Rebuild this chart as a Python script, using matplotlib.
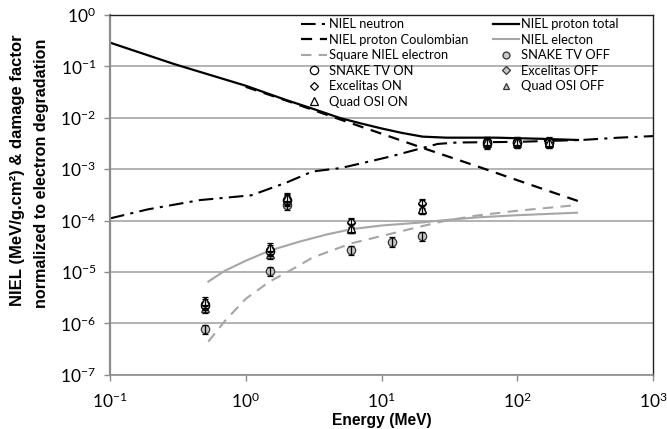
import matplotlib
matplotlib.use("Agg")
import matplotlib.pyplot as plt
from matplotlib.lines import Line2D
import numpy as np

plt.rcParams['font.family'] = ['Lato', 'DejaVu Sans']
plt.rcParams['mathtext.fontset'] = 'custom'
plt.rcParams['mathtext.rm'] = 'Lato'
plt.rcParams['mathtext.it'] = 'Lato:italic'
plt.rcParams['mathtext.bf'] = 'Lato:bold'

# ---- NIEL curves ----
e_neutron = [0.1, 0.19, 0.46, 1.1, 2.0, 3.1, 5.0, 9.0, 12.0, 17.0, 26.0, 36.0, 100.0, 300.0, 560.0, 1000.0]
niel_neutron = [1.1e-4, 1.65e-4, 2.5e-4, 3.1e-4, 5.5e-4, 9.0e-4, 1.05e-3, 1.5e-3, 1.8e-3, 2.3e-3, 3.1e-3,
                3.3e-3, 3.4e-3, 3.7e-3, 4.1e-3, 4.4e-3]

e_proton_total = [0.1, 0.3, 1.0, 2.0, 3.0, 5.0, 7.0, 10.0, 14.0, 20.0, 30.0, 50.0, 70.0, 100.0, 150.0, 200.0, 280.0]
niel_proton_total = [0.29, 0.11, 0.042, 0.022, 0.0155, 0.0098, 0.0078, 0.0062, 0.0051, 0.0043, 0.0041,
                     0.0041, 0.0041, 0.0040, 0.0039, 0.0038, 0.0037]

e_proton_coul = [1.0, 2.0, 5.0, 10.0, 20.0, 50.0, 100.0, 280.0]
niel_proton_coul = [0.040, 0.0215, 0.0092, 0.0049, 0.0026, 1.15e-3, 6.1e-4, 2.4e-4]

e_electron = [0.53, 0.7, 1.0, 1.5, 2.5, 4.0, 6.0, 10.0, 20.0, 27.0, 50.0, 100.0, 275.0]
niel_electron = [6.5e-6, 1.05e-5, 1.65e-5, 2.6e-5, 3.9e-5, 5.4e-5, 6.8e-5, 8.0e-5, 9.2e-5, 1.0e-4,
                 1.15e-4, 1.27e-4, 1.42e-4]

e_sq_electron = [0.53, 0.7, 1.0, 1.5, 2.3, 3.1, 6.0, 10.0, 20.0, 30.0, 50.0, 100.0, 275.0]
sq_niel_electron = [4.4e-7, 1.1e-6, 3.0e-6, 6.5e-6, 1.2e-5, 1.9e-5, 3.6e-5, 5.0e-5, 7.8e-5, 1.0e-4,
                    1.25e-4, 1.55e-4, 2.0e-4]

# ---- measured damage factors ----
e_snake_on = [0.5, 1.5, 2.0, 60.0, 100.0, 170.0]
snake_on = [2.3e-6, 2.6e-5, 2.5e-4, 3.4e-3, 3.4e-3, 3.4e-3]
e_snake_off = [0.5, 1.5, 2.0, 6.0, 12.0, 20.0, 60.0, 100.0, 170.0]
snake_off = [7.8e-7, 1.05e-5, 2.0e-4, 2.7e-5, 3.9e-5, 4.9e-5, 3.1e-3, 3.2e-3, 3.2e-3]
e_excel_on = [0.5, 1.5, 2.0, 6.0, 20.0, 60.0, 100.0, 170.0]
excel_on = [2.5e-6, 2.8e-5, 2.6e-4, 9.5e-5, 2.2e-4, 3.5e-3, 3.5e-3, 3.5e-3]
e_excel_off = [0.5, 1.5, 2.0, 6.0, 20.0, 60.0, 100.0, 170.0]
excel_off = [2.1e-6, 2.4e-5, 2.4e-4, 9.0e-5, 2.1e-4, 3.3e-3, 3.3e-3, 3.3e-3]
e_quad_on = [0.5, 1.5, 2.0, 6.0, 20.0, 60.0, 100.0, 170.0]
quad_on = [2.7e-6, 3.0e-5, 2.9e-4, 7.2e-5, 1.7e-4, 3.6e-3, 3.6e-3, 3.4e-3]
e_quad_off = [0.5, 1.5, 2.0, 6.0, 20.0, 60.0, 100.0, 170.0]
quad_off = [2.0e-6, 2.2e-5, 2.7e-4, 7.0e-5, 1.65e-4, 3.2e-3, 3.2e-3, 3.2e-3]
rel_err = 0.2

W, H = 667, 429
fig = plt.figure(figsize=(W / 100, H / 100), dpi=100)
ax = fig.add_axes([110/W, 1-374.7/H, (653-110)/W, (374.7-15)/H])
ax.set_xscale('log')
ax.set_yscale('log')
ax.set_xlim(0.1, 1000)
ax.set_ylim(1e-7, 1)

grid_c = '#a6a6a6'
ax.yaxis.grid(True, color=grid_c, lw=1.2)
ax.set_axisbelow(True)
ax.minorticks_off()
for s in ['top', 'right']:
    ax.spines[s].set_color('#222222')
    ax.spines[s].set_linewidth(1.0)
ax.spines['left'].set_color('#8c8c8c')
ax.spines['left'].set_linewidth(1.6)
ax.spines['bottom'].set_color('#8c8c8c')
ax.spines['bottom'].set_linewidth(1.2)
ax.tick_params(axis='both', which='major', color='#8c8c8c', length=4, width=1.0,
               labelsize=12.5, colors='black')
ax.tick_params(axis='x', pad=8)
ax.tick_params(axis='y', pad=6)

gray = '#a6a6a6'
h_neu, = ax.plot(e_neutron, niel_neutron, color='black', lw=1.5, dashes=(7, 3, 1.5, 3),
                 label='NIEL neutron')
h_tot, = ax.plot(e_proton_total, niel_proton_total, color='black', lw=1.6,
                 label='NIEL proton total')
h_coul, = ax.plot(e_proton_coul, niel_proton_coul, color='black', lw=1.6, dashes=(5, 3.5),
                  label='NIEL proton Coulombian')
h_el, = ax.plot(e_electron, niel_electron, color=gray, lw=1.5, label='NIEL electon')
h_sq, = ax.plot(e_sq_electron, sq_niel_electron, color=gray, lw=1.5, dashes=(5, 3.5),
                label='Square NIEL electron')


def series(e, v, marker, fc, ec, ms, z):
    v = np.asarray(v)
    ax.plot(e, v, ls='none', marker=marker, mfc=fc, mec=ec, ms=ms, mew=0.9, zorder=z)
    ax.errorbar(e, v, yerr=rel_err * v, fmt='none', ecolor='black', elinewidth=0.9,
                capsize=2.2, capthick=0.9, zorder=z + 0.1)


off_fc = '#c8c8c8'
series(e_snake_off, snake_off, 'o', off_fc, '#333333', 6, 3)
series(e_excel_off, excel_off, 'D', off_fc, '#333333', 4.5, 3.2)
series(e_quad_off, quad_off, '^', off_fc, '#333333', 6, 3.4)
series(e_snake_on, snake_on, 'o', 'white', 'black', 6, 3.6)
series(e_excel_on, excel_on, 'D', 'white', 'black', 4.5, 3.8)
series(e_quad_on, quad_on, '^', 'white', 'black', 6, 4.0)

m_snake_on = Line2D([], [], ls='none', marker='o', mfc='white', mec='black', ms=6, mew=0.9)
m_excel_on = Line2D([], [], ls='none', marker='D', mfc='white', mec='black', ms=4.5, mew=0.9)
m_quad_on = Line2D([], [], ls='none', marker='^', mfc='white', mec='black', ms=6, mew=0.9)
m_snake_off = Line2D([], [], ls='none', marker='o', mfc=off_fc, mec='#333333', ms=5, mew=0.9)
m_excel_off = Line2D([], [], ls='none', marker='D', mfc=off_fc, mec='#333333', ms=4, mew=0.9)
m_quad_off = Line2D([], [], ls='none', marker='^', mfc=off_fc, mec='#333333', ms=5, mew=0.9)

handles = [h_neu, h_coul, h_sq, m_snake_on, m_excel_on, m_quad_on,
           h_tot, h_el, m_snake_off, m_excel_off, m_quad_off]
labels = ['NIEL neutron', 'NIEL proton Coulombian', 'Square NIEL electron', 'SNAKE TV ON',
          'Excelitas ON', 'Quad OSI ON', 'NIEL proton total', 'NIEL electon', 'SNAKE TV OFF',
          'Excelitas OFF', 'Quad OSI OFF']
fig.legend(handles, labels, ncol=2, frameon=False, fontsize=9.3,
           loc='upper left', bbox_to_anchor=(301/W, 1-18.5/H), borderaxespad=0, borderpad=0,
           handlelength=2.0, handletextpad=0.15, columnspacing=1.95, labelspacing=0.27)

# axis titles, each scaled to span a given length in pixels
renderer = fig.canvas.get_renderer()


def fitted_text(x_px, y_px, s, span_px, rotation=0):
    t = fig.text(x_px / W, 1 - y_px / H, s, rotation=rotation, ha='center', va='center',
                 family=['Liberation Sans', 'DejaVu Sans'], fontweight='bold', fontsize=11)
    for _ in range(3):
        bb = t.get_window_extent(renderer)
        cur = bb.height if rotation else bb.width
        t.set_fontsize(t.get_fontsize() * span_px / cur)
    return t


fitted_text((110 + 653) / 2, 421, 'Energy (MeV)', 100)
fitted_text(18, 170, 'NIEL (MeV/g.cm²) & damage factor', 272, rotation=90)
fitted_text(42, 173, 'normalized to electron degradation', 268, rotation=90)

fig.savefig('out.png', dpi=100)
